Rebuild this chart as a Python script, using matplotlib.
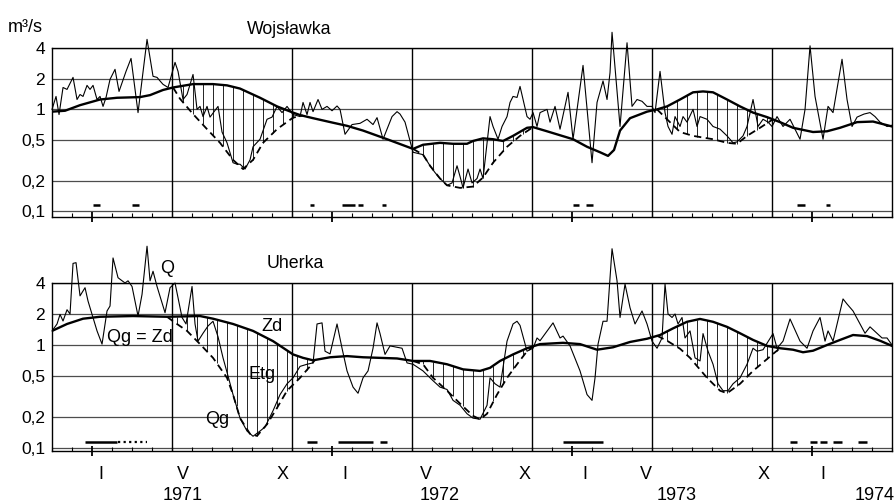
import numpy as np
import matplotlib
matplotlib.use("Agg")
import matplotlib.pyplot as plt

plt.rcParams['font.family'] = ['Liberation Sans', 'DejaVu Sans']

# x axis: months since 1 XI 1970 (start of hydrological year)

# ---- Wojslawka ----
woj_q_m = [0, 0.2, 0.35, 0.55, 0.75, 1.05, 1.25, 1.4, 1.55, 1.75, 1.9, 2.05, 2.25, 2.4, 2.55, 2.7,
           2.9, 3.15, 3.35, 3.7, 3.95, 4.3, 4.75, 5.05, 5.25, 5.4, 5.55, 5.8, 6.15, 6.3, 6.55, 6.75,
           7.05, 7.25, 7.4, 7.55, 7.75, 7.9, 8.3, 8.5, 8.75, 9.05, 9.25, 9.4, 9.65, 9.9, 10.05, 10.4,
           10.75, 11.0, 11.25, 11.5, 11.75, 12.05, 12.4, 12.55, 12.75, 12.9, 13.05, 13.3, 13.5, 13.75,
           14.0, 14.25, 14.4, 14.65, 15.0, 15.4, 15.75, 16.05, 16.25, 16.55, 17.0, 17.25, 17.4, 17.65,
           18.05, 18.55, 18.9, 19.15, 19.4, 19.75, 20.0, 20.25, 20.4, 20.55, 20.8, 21.0, 21.25, 21.4,
           21.55, 21.9, 22.05, 22.3, 22.5, 22.75, 22.9, 23.05, 23.25, 23.4, 23.55, 23.75, 23.9, 24.05,
           24.25, 24.4, 24.75, 24.9, 25.15, 25.4, 25.8, 26.05, 26.55, 27.0, 27.25, 27.55, 27.75, 27.9,
           28.0, 28.4, 28.75, 29.0, 29.25, 29.5, 29.75, 30.0, 30.15, 30.4, 30.65, 30.8, 31.0, 31.15,
           31.4, 31.55, 31.75, 32.05, 32.25, 32.4, 32.75, 33.05, 33.4, 33.75, 34.05, 34.25, 34.55,
           34.75, 35.05, 35.3, 35.55, 35.8, 36.0, 36.25, 36.55, 36.9, 37.4, 37.65, 37.9, 38.15, 38.55,
           38.8, 39.05, 39.5, 39.75, 40.0, 40.25, 40.6, 40.9, 41.15, 41.4, 41.75, 42.0]
woj_q = [1.0, 1.34, 0.89, 1.64, 1.57, 2.06, 1.25, 1.40, 1.34, 1.72, 1.57, 1.72, 1.25, 1.34, 1.07, 1.31,
         1.97, 2.47, 1.50, 2.36, 3.16, 0.93, 4.86, 2.11, 2.06, 1.90, 1.76, 1.64, 2.89, 2.36, 1.25, 1.40,
         2.20, 1.00, 1.07, 0.85, 1.07, 0.84, 1.07, 0.60, 0.47, 0.30, 0.29, 0.29, 0.26, 0.32, 0.43, 0.51,
         0.80, 0.84, 1.07, 0.93, 1.07, 0.89, 0.85, 1.17, 0.89, 1.17, 0.95, 1.25, 1.00, 1.07,
         0.97, 1.08, 1.00, 0.57, 0.71, 0.73, 0.80, 0.71, 0.83, 0.51, 0.85, 0.95, 0.90, 0.75,
         0.38, 0.36, 0.28, 0.24, 0.21, 0.18, 0.19, 0.28, 0.22, 0.17, 0.26, 0.19, 0.21, 0.26,
         0.21, 0.85, 0.68, 0.51, 0.68, 0.85, 1.17, 1.34, 1.31, 1.68, 1.25, 0.85, 0.80, 0.93,
         0.68, 0.93, 1.00, 0.75, 1.07, 0.64, 1.47, 0.51, 2.70, 0.30, 1.17, 1.90, 1.25, 2.30,
         5.70, 0.68, 4.50, 1.07, 1.25, 1.20, 1.07, 1.07, 0.93, 2.36, 0.93, 0.68, 0.57, 0.85,
         0.68, 0.85, 0.75, 1.00, 0.68, 0.85, 0.80, 0.68, 0.64, 0.55, 0.47, 0.48, 0.55,
         0.68, 1.25, 0.68, 0.80, 0.75, 0.68, 0.85, 0.68, 0.80, 0.51, 1.00, 4.20, 1.34, 0.51,
         1.07, 0.93, 3.10, 1.25, 0.68, 0.84, 0.90, 0.93, 0.85, 0.75, 0.68, 0.70]
woj_zd_m = [0, 0.65, 1.4, 2.4, 3.25, 4.4, 4.9, 5.55, 6.05, 7.05, 8.05, 8.75, 9.4, 10.4, 11.25, 12.05,
            12.4, 13.05, 14.05, 14.75, 15.55, 16.75, 18.05, 18.55, 19.4, 20.05, 20.75, 21.05, 21.55,
            22.05, 22.55, 23.05, 23.75, 24.05, 24.75, 26.05, 26.75, 27.4, 27.8, 28.1, 28.4, 28.9,
            29.75, 30.25, 30.75, 31.4, 32.05, 32.55, 33.05, 33.75, 34.4, 35.05, 35.75, 36.4, 37.05,
            38.05, 38.75, 39.4, 40.25, 41.05, 42.0]
woj_zd = [0.95, 0.97, 1.10, 1.25, 1.30, 1.32, 1.38, 1.55, 1.64, 1.77, 1.77, 1.72, 1.60, 1.30, 1.07, 0.93,
          0.88, 0.82, 0.74, 0.69, 0.62, 0.51, 0.41, 0.45, 0.47, 0.46, 0.46, 0.49, 0.52,
          0.51, 0.49, 0.55, 0.66, 0.67, 0.61, 0.51, 0.43, 0.38, 0.35, 0.40, 0.62, 0.82,
          0.95, 1.00, 1.07, 1.25, 1.47, 1.50, 1.47, 1.25, 1.07, 0.93, 0.84, 0.75, 0.66,
          0.60, 0.61, 0.66, 0.75, 0.76, 0.68]
woj_qg1_m = [6.05, 6.4, 7.05, 7.75, 8.4, 9.05, 9.55, 10.05, 10.55, 11.25, 12.05, 12.55]
woj_qg1 = [1.64, 1.27, 0.90, 0.64, 0.47, 0.32, 0.26, 0.32, 0.47, 0.64, 0.83, 0.87]
woj_qg2_m = [18.05, 18.55, 18.9, 19.4, 19.75, 20.4, 21.05, 21.55, 22.05, 22.75, 23.4, 24.05]
woj_qg2 = [0.41, 0.36, 0.28, 0.21, 0.18, 0.17, 0.175, 0.215, 0.30, 0.43, 0.55, 0.67]
woj_qg3_m = [30.25, 30.75, 31.4, 32.05, 33.05, 33.75, 34.25, 34.75, 35.4, 36.05]
woj_qg3 = [1.00, 0.80, 0.60, 0.55, 0.51, 0.47, 0.46, 0.55, 0.66, 0.80]
woj_ice = [(2.05, 2.4), (4.0, 4.35), (12.9, 13.1), (14.5, 15.15), (15.3, 15.55), (16.5, 16.7),
           (26.05, 26.35), (26.7, 27.05), (37.25, 37.65), (38.7, 38.9)]

# ---- Uherka ----
uhe_q_m = [0, 0.25, 0.4, 0.55, 0.75, 0.9, 1.05, 1.2, 1.4, 1.65, 1.8, 2.25, 2.5, 2.75, 2.9, 3.05, 3.3,
           3.5, 3.65, 3.8, 4.0, 4.3, 4.5, 4.75, 4.9, 5.05, 5.25, 5.65, 5.9, 6.15, 6.5, 6.7, 7.0, 7.15,
           7.3, 7.55, 7.8, 8.05, 8.3, 8.55, 8.8, 9.05, 9.4, 9.75, 10.05, 10.4, 10.65, 11.05, 11.4,
           11.75, 12.05, 12.4, 12.75, 13.05, 13.25, 13.5, 13.65, 13.9, 14.25, 14.5, 14.75, 15.05,
           15.3, 15.55, 15.8, 16.05, 16.25, 16.4, 16.65, 16.9, 17.25, 17.5, 17.75, 18.05, 18.55,
           19.05, 19.4, 19.75, 20.05, 20.4, 20.75, 21.05, 21.4, 21.75, 21.9, 22.15, 22.4, 22.75,
           23.05, 23.25, 23.4, 23.75, 24.05, 24.25, 24.4, 25.05, 25.4, 25.55, 25.9, 26.4, 26.75,
           27.0, 27.15, 27.3, 27.55, 27.75, 28.0, 28.25, 28.4, 28.65, 28.9, 29.15, 29.5, 29.75,
           30.0, 30.25, 30.5, 30.65, 30.8, 31.0, 31.15, 31.3, 31.5, 31.65, 31.9, 32.15, 32.4,
           32.55, 32.8, 33.05, 33.3, 33.55, 33.8, 34.05, 34.4, 34.75, 35.05, 35.25, 35.55, 36.05,
           36.25, 36.55, 36.9, 37.4, 37.75, 38.05, 38.4, 38.65, 38.8, 39.05, 39.55, 39.75, 40.05,
           40.4, 40.65, 40.9, 41.25, 41.5, 41.75, 42.0]
uhe_q = [1.37, 1.6, 1.98, 1.71, 2.2, 2.0, 6.2, 6.3, 3.0, 3.6, 2.67, 1.37, 1.02, 2.14, 2.39, 7.0, 4.5,
         4.2, 4.0, 4.2, 3.7, 1.91, 3.1, 9.1, 4.2, 5.2, 3.7, 2.06, 3.6, 4.0, 1.85, 1.6, 3.7, 1.6,
         1.09, 1.3, 1.53, 1.7, 1.2, 0.75, 0.5, 0.33, 0.195, 0.146, 0.13, 0.146, 0.16, 0.23, 0.33,
         0.42, 0.48, 0.62, 0.65, 0.67, 1.6, 1.64, 0.87, 0.82, 1.6, 0.93, 0.56, 0.39,
         0.34, 0.48, 0.56, 0.93, 1.64, 1.29, 0.81, 0.98, 0.95, 0.93, 0.67, 0.65, 0.56,
         0.45, 0.39, 0.37, 0.29, 0.26, 0.215, 0.195, 0.19, 0.26, 0.48, 0.42, 0.39, 1.09,
         1.6, 1.7, 1.55, 0.87, 0.93, 1.17, 1.1, 1.64, 1.17, 1.22, 0.98, 0.56, 0.33,
         0.29, 0.48, 1.02, 1.7, 1.7, 8.6, 4.2, 1.85, 3.9, 2.3, 1.6, 2.14, 1.6,
         1.09, 0.93, 1.17, 3.9, 2.0, 1.85, 2.0, 1.6, 1.85, 1.17, 1.37, 0.75, 0.70,
         1.29, 0.87, 0.65, 0.42, 0.36, 0.36, 0.42, 0.48, 0.65, 0.93, 0.87, 0.9, 1.29,
         0.93, 1.09, 1.79, 1.09, 0.93, 1.37, 1.85, 1.09, 1.37, 1.09, 2.8, 2.5, 2.14,
         1.6, 1.3, 1.5, 1.3, 1.17, 1.17, 1.0]
uhe_zd_m = [0, 0.75, 1.55, 2.4, 4.05, 5.75, 7.4, 8.05, 9.05, 10.05, 11.05, 12.05, 12.55, 13.05, 13.9,
            14.75, 15.55, 17.25, 18.05, 18.9, 19.75, 20.55, 21.4, 21.9, 22.4, 23.05, 23.75, 24.4,
            25.55, 26.4, 27.25, 28.05, 28.9, 29.75, 30.4, 31.05, 31.75, 32.4, 33.05, 33.75, 34.4,
            35.05, 35.75, 36.4, 37.05, 37.55, 38.05, 38.75, 39.4, 40.05, 40.75, 41.4, 42.0]
uhe_zd = [1.37, 1.6, 1.8, 1.88, 1.91, 1.88, 1.91, 1.80, 1.60, 1.37, 1.09, 0.81, 0.75, 0.71, 0.76,
          0.78, 0.76, 0.74, 0.70, 0.70, 0.65, 0.58, 0.56, 0.60, 0.70, 0.81, 0.93, 1.02,
          1.05, 1.02, 0.90, 0.95, 1.07, 1.15, 1.25, 1.45, 1.68, 1.79, 1.68, 1.50, 1.30,
          1.12, 0.98, 0.93, 0.90, 0.85, 0.88, 1.00, 1.12, 1.25, 1.22, 1.10, 0.98]
uhe_qg1_m = [5.75, 6.05, 6.75, 7.4, 8.05, 8.75, 9.05, 9.4, 9.9, 10.25, 10.75, 11.25, 11.75, 12.4, 12.9, 13.15]
uhe_qg1 = [1.88, 1.70, 1.37, 1.02, 0.75, 0.48, 0.33, 0.195, 0.137, 0.131, 0.17, 0.245, 0.36, 0.48, 0.62, 0.72]
uhe_qg2_m = [18.05, 18.55, 19.05, 19.75, 20.4, 21.05, 21.4, 21.75, 22.25, 22.75, 23.25, 23.75, 24.05]
uhe_qg2 = [0.70, 0.65, 0.48, 0.36, 0.27, 0.205, 0.19, 0.215, 0.33, 0.48, 0.65, 0.87, 0.97]
uhe_qg3_m = [30.25, 30.75, 31.4, 31.9, 32.75, 33.4, 33.75, 34.4, 35.05, 35.75, 36.15, 36.4]
uhe_qg3 = [1.23, 1.10, 0.92, 0.75, 0.48, 0.36, 0.34, 0.42, 0.56, 0.73, 0.85, 0.93]
uhe_ice = [(1.65, 3.25), (12.75, 13.25), (14.3, 16.05), (16.4, 16.75), (25.55, 27.55),
           (36.9, 37.25), (37.9, 38.25), (38.4, 38.75), (39.05, 39.5), (40.3, 40.75)]
uhe_ice_dotted = [(3.3, 4.75)]

ytick_vals = [0.1, 0.2, 0.5, 1, 2, 4]
ytick_text = ['0,1', '0,2', '0,5', '1', '2', '4']
month_text = ['I', 'V', 'X', 'I', 'V', 'X', 'I', 'V', 'X', 'I']
month_pos = [2.45, 6.55, 11.55, 14.65, 18.7, 23.65, 26.65, 29.7, 35.6, 38.55]
year_text = ['1971', '1972', '1973', '1974']
year_pos = [6.55, 19.4, 31.25, 41.15]
halfyear_lines = [6, 12, 18, 24, 30, 36]
jan_ticks = [2, 14, 26, 38]
ice_level = 0.115


def draw_panel(ax, q_m, q, zd_m, zd, qg_parts, ice, ylow):
    ax.set_yscale('log')
    ax.set_xlim(0, 42)
    ax.set_ylim(ylow, 4)
    for v in ytick_vals:
        ax.axhline(v, color='0.3', lw=0.9, zorder=1)
    for m in halfyear_lines:
        ax.axvline(m, color='k', lw=1.0, zorder=1)
    ax.plot(q_m, q, color='k', lw=0.8, zorder=3, clip_on=False)
    ax.plot(zd_m, zd, color='k', lw=1.7, zorder=4)
    for qm, qv in qg_parts:
        ax.plot(qm, qv, color='k', lw=1.3, ls=(0, (4, 2.5)), zorder=4)
        xs = np.arange(qm[0] + 0.5, qm[-1] - 0.1, 0.5)
        ax.vlines(xs, np.interp(xs, qm, qv), np.interp(xs, zd_m, zd),
                  color='k', lw=0.6, zorder=2)
    for a, b in ice:
        ax.plot([a, b], [ice_level, ice_level], color='k', lw=1.8,
                solid_capstyle='butt', zorder=3)

    ax.set_yticks(ytick_vals)
    ax.set_yticklabels(ytick_text)
    ax.yaxis.set_minor_locator(matplotlib.ticker.NullLocator())
    ax.tick_params(axis='y', length=0, pad=5, labelsize=12.5)
    ax.set_xticks(jan_ticks)
    ax.set_xticks([m for m in range(43) if m not in jan_ticks], minor=True)
    ax.set_xticklabels([])
    ax.tick_params(axis='x', which='major', direction='inout', length=7.5, width=1.3)
    ax.tick_params(axis='x', which='minor', direction='in', length=3, width=0.8)
    for s in ax.spines.values():
        s.set_linewidth(1.0)


fig = plt.figure(figsize=(8.94, 5.03), dpi=100)
ax1 = fig.add_axes([0.0582, 0.5692, 0.9396, 0.3354])
ax2 = fig.add_axes([0.0582, 0.1034, 0.9396, 0.3340])

draw_panel(ax1, woj_q_m, woj_q, woj_zd_m, woj_zd,
           [(woj_qg1_m, woj_qg1), (woj_qg2_m, woj_qg2), (woj_qg3_m, woj_qg3)], woj_ice, 0.0887)
draw_panel(ax2, uhe_q_m, uhe_q, uhe_zd_m, uhe_zd,
           [(uhe_qg1_m, uhe_qg1), (uhe_qg2_m, uhe_qg2), (uhe_qg3_m, uhe_qg3)], uhe_ice, 0.0935)
for a, b in uhe_ice_dotted:
    ax2.plot([a, b], [ice_level, ice_level], color='k', lw=1.6, ls=(0, (1, 1.5)), zorder=3)

# month / year labels under lower panel
for m, t in zip(month_pos, month_text):
    ax2.text(m, -0.137, t, transform=ax2.get_xaxis_transform(), ha='center', va='center', fontsize=13)
for m, t in zip(year_pos, year_text):
    ax2.text(m, -0.262, t, transform=ax2.get_xaxis_transform(), ha='center', va='center', fontsize=13)

# curve annotations
ax2.text(5.75, 5.0, 'Q', ha='center', va='baseline', fontsize=13)
ax2.text(4.375, 1.07, 'Qg = Zd', ha='center', va='baseline', fontsize=13)
ax2.text(10.98, 1.37, 'Zd', ha='center', va='baseline', fontsize=13)
ax2.text(10.48, 0.47, 'Etg', ha='center', va='baseline', fontsize=13)
ax2.text(8.25, 0.17, 'Qg', ha='center', va='baseline', fontsize=13)

fig.text(0.324, 0.942, 'Wojsławka', ha='center', va='center', fontsize=12.8)
fig.text(0.33, 0.477, 'Uherka', ha='center', va='center', fontsize=12.8)
fig.text(0.009, 0.936, 'm³/s', ha='left', va='baseline', fontsize=13)

fig.savefig('out.png', dpi=100)
plt.close(fig)
